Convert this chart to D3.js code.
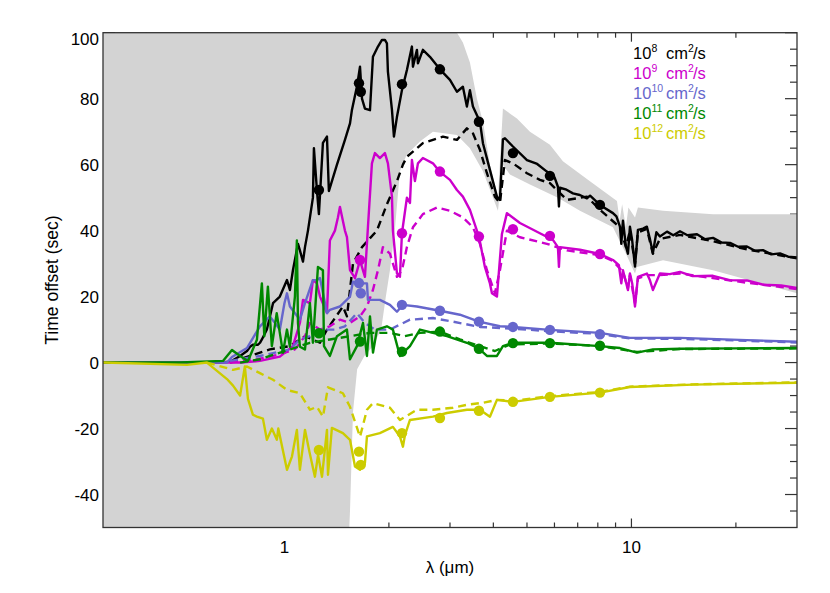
<!DOCTYPE html>
<meta charset="utf-8">
<script src="https://d3js.org/d3.v7.min.js"></script>
<style>
  body { margin: 0; background: #fff; }
  text { font-family: "Liberation Sans", Arial, sans-serif; fill: #000; }
</style>
<div id="chart"></div>
<script>
  var width = 830, height = 593;

  // wavelength (micron), time offset (sec)
  var solid8 = [[0.3,0],[0.65,0],[0.70,0.3],[0.745,2],[0.78,3.5],[0.796,4.8],[0.811,5.4],[0.839,5.4],[0.85,6],[0.861,7],[0.89,10],[0.927,18],[0.97,20],[1.017,25],[1.037,22],[1.058,28],[1.094,36],[1.108,34],[1.131,30.6],[1.146,35],[1.169,40],[1.208,50],[1.216,65],[1.241,52],[1.257,45],[1.291,66.6],[1.326,68.5],[1.343,52],[1.417,60],[1.494,67.5],[1.545,72.5],[1.565,76.6],[1.62,84],[1.651,89.7],[1.673,80],[1.706,77],[1.764,76.5],[1.799,92.7],[1.860,95.8],[1.910,97.8],[1.948,97.8],[1.974,96.8],[1.987,88.2],[2.041,76.6],[2.068,68.5],[2.110,74.5],[2.181,82.6],[2.254,88.7],[2.330,95.8],[2.346,89.7],[2.409,94.8],[2.425,90.7],[2.506,94.8],[2.626,92.7],[2.806,88.9],[2.999,85.7],[3.141,82.1],[3.268,83.6],[3.356,77.6],[3.424,82.6],[3.493,77.6],[3.659,73],[3.733,66.5],[3.910,58.4],[4.096,50.3],[4.178,49.3],[4.262,67.7],[4.319,68],[4.555,65.5],[4.999,61.4],[5.35,60.2],[5.706,57.9],[6.0,56.2],[6.140,53.3],[6.181,47.3],[6.221,53],[6.5,52.4],[6.783,51.3],[7.1,50.8],[7.443,49.8],[7.6,50.6],[8.114,47.8],[8.846,45.3],[9.05,44.3],[9.267,41.2],[9.35,36],[9.452,43],[9.641,35.2],[9.770,33],[9.901,41.2],[10.05,37],[10.24,29.1],[10.44,40.2],[10.8,40.6],[11.08,41.2],[11.3,37.5],[11.53,33.2],[11.8,39.5],[12.08,38.2],[12.66,39.7],[13.2,38.6],[13.80,39.8],[14.5,38.6],[15.45,38.9],[16.3,37.4],[17.18,37.8],[18.2,36.4],[19.23,36.3],[20.3,35.1],[21.52,35.2],[22.7,33.9],[23.93,34.1],[25.3,32.8],[26.79,33.1],[28.3,32.1],[30,31.9]];
  var dashed8 = [[0.697,0],[0.796,2],[0.908,4],[1.037,5],[1.146,8],[1.266,6],[1.326,10],[1.474,17],[1.514,14],[1.576,30],[1.673,35],[1.847,40],[1.974,48],[2.110,55],[2.195,60],[2.254,62.4],[2.506,66.5],[2.863,68.5],[3.141,67.5],[3.356,71],[3.493,69.5],[3.659,64.5],[3.833,57.4],[4.042,50.3],[4.178,48.4],[4.319,61.4],[4.555,60.4],[4.999,57.4],[5.447,55.4],[5.822,54.4],[6.518,49.3],[7.443,50.3],[8.114,46.3],[9.267,41],[9.641,35],[9.901,40],[10.24,30],[10.44,39.5],[11.08,40.5],[11.53,33],[12.08,37.5],[13.80,38.7],[17.18,36.8],[21.52,34.3],[30,31.6]];
  var dots8 = [[1.257,52.3],[1.64,84.7],[1.66,82.1],[2.181,84.4],[2.806,88.9],[3.635,73],[4.555,63.5],[5.822,56.6],[8.114,47.8]];

  var solid9 = [[0.3,0],[0.75,0],[0.85,0.5],[0.97,1.8],[1.058,5],[1.108,12],[1.131,19],[1.184,18],[1.208,25],[1.241,24],[1.266,20],[1.326,15],[1.352,37],[1.398,40],[1.426,44],[1.445,47.2],[1.494,40],[1.514,38],[1.545,28],[1.597,25.6],[1.651,31],[1.706,26],[1.740,41],[1.787,60.4],[1.823,63.5],[1.884,62],[1.948,63.5],[1.987,60.4],[2.041,50.3],[2.054,40],[2.110,27],[2.152,26],[2.181,39.2],[2.254,50],[2.300,48.4],[2.330,61.4],[2.377,55],[2.425,60.4],[2.506,62],[2.679,60.4],[2.806,57.8],[2.999,55.4],[3.141,52.3],[3.268,50.3],[3.424,46.3],[3.635,38.2],[3.782,29],[3.910,24],[3.963,21],[4.096,20],[4.234,39],[4.377,45.3],[4.772,42.3],[5.447,39.2],[5.939,37.2],[6.140,35],[6.181,29],[6.221,35],[7.105,34.2],[8.114,32.9],[8.846,31.1],[9.2,29.5],[9.35,24],[9.452,28],[9.770,22],[9.901,27],[10.05,24],[10.24,17],[10.44,26],[11.08,27],[11.3,25],[11.53,22],[12.08,27],[12.9,26.8],[13.80,27.5],[15.0,26.2],[17.18,26.3],[19.2,25],[21.52,24.9],[24,23.6],[27,23.4],[30,22.6]];
  var dashed9 = [[0.697,0],[0.833,1],[0.970,2.5],[1.072,4],[1.146,8],[1.184,12],[1.266,10],[1.352,11],[1.445,13],[1.545,12],[1.651,14],[1.729,17],[1.799,22],[1.860,28],[1.922,35],[2.014,33],[2.110,26],[2.181,28],[2.254,35],[2.346,41],[2.506,45],[2.751,47],[2.999,46],[3.268,44],[3.493,41],[3.659,36],[3.833,28],[4.042,21],[4.178,28],[4.377,40],[4.772,38],[5.706,36],[6.518,34],[7.593,33],[8.114,32.5],[8.846,30.8],[9.452,27.5],[9.770,22.5],[9.901,26.5],[10.24,18],[10.44,25.5],[11.08,26.5],[12.08,26.5],[13.80,27],[17.18,25.6],[21.52,24.2],[30,22.3]];
  var dots9 = [[1.651,31.1],[2.181,39.2],[2.806,57.9],[3.635,38.2],[4.555,40.4],[5.822,38.4],[8.114,32.9]];

  var solid10 = [[0.3,0],[0.683,0],[0.706,1.7],[0.780,4.4],[0.850,11],[0.908,14],[0.97,10],[1.0,18],[1.017,21],[1.037,17],[1.108,13],[1.146,18],[1.208,25],[1.241,25],[1.266,25.6],[1.326,15],[1.352,16],[1.445,17],[1.545,20],[1.576,24.5],[1.651,24],[1.729,24],[1.740,19],[1.884,19],[2.014,17.5],[2.110,15.4],[2.195,17.5],[2.409,17],[2.806,15.7],[3.204,14.5],[3.635,12.4],[4.178,11],[4.555,10.8],[5.822,9.9],[8.114,9],[9.901,7.5],[13.80,7.5],[21.52,6.8],[30,6.3]];
  var dashed10 = [[0.697,0.5],[0.850,2],[1.037,4],[1.108,7],[1.184,8],[1.266,10],[1.398,10],[1.494,11],[1.618,15],[1.706,12],[1.823,10],[2.014,10],[2.300,13],[2.679,13.5],[3.059,12.4],[3.659,10.8],[4.178,10.5],[4.555,10.3],[5.822,9.5],[8.114,8.7],[9.901,7.3],[13.80,7.2],[21.52,6.6],[30,6.1]];
  var dots10 = [[1.64,24.1],[1.66,21.0],[2.181,17.5],[2.806,15.7],[3.635,12.4],[4.555,10.8],[5.822,9.9],[8.114,8.6]];

  var solid11 = [[0.3,0],[0.5,0],[0.665,0.5],[0.706,3.8],[0.745,2],[0.785,0.5],[0.833,6.9],[0.861,24],[0.875,8],[0.896,23],[0.92,5],[0.95,15],[0.99,3],[1.017,10],[1.037,4.8],[1.072,20],[1.086,37],[1.094,12],[1.108,4.8],[1.146,4],[1.184,18],[1.208,6],[1.249,29],[1.291,28],[1.300,5],[1.352,2],[1.417,8],[1.514,10],[1.545,1],[1.618,5],[1.684,12],[1.729,2],[1.764,14],[1.80,3],[1.847,10],[1.974,11],[2.054,10],[2.152,2],[2.300,5],[2.457,10],[2.679,9],[2.940,8],[3.356,6],[3.635,4.2],[3.833,2],[4.096,2],[4.262,5],[4.555,6],[5.822,6],[8.114,5],[9.267,4.4],[10.37,3],[11.53,4],[13.80,4.2],[20,4.3],[30,4.4]];
  var dashed11 = [[0.745,0],[0.85,1],[0.908,2],[1.037,4],[1.184,6],[1.352,7],[1.545,8],[1.764,9],[2.014,9],[2.225,8],[2.457,9],[2.806,9.4],[3.204,7],[3.659,5],[4.042,3.5],[4.465,5.5],[5.822,5.8],[8.114,5],[10.37,3.2],[13.80,4.1],[30,4.3]];
  var dots11 = [[1.257,8.9],[1.651,6.4],[2.181,3.3],[2.806,9.4],[3.635,4.2],[4.555,5.9],[5.822,5.9],[8.114,5.1]];

  var solid12 = [[0.3,0],[0.524,-0.7],[0.598,0],[0.683,-5],[0.711,-7],[0.745,-10],[0.769,-1.2],[0.785,-11],[0.811,-15.8],[0.833,-16.4],[0.867,-17],[0.890,-23.4],[0.920,-20],[0.951,-23.4],[0.96,-20],[1.017,-32.5],[1.051,-28.5],[1.086,-20.4],[1.108,-32.5],[1.146,-20.4],[1.18,-27],[1.224,-34.6],[1.25,-28],[1.283,-34.6],[1.326,-20.4],[1.335,-34],[1.370,-19.8],[1.474,-21.4],[1.545,-23.4],[1.597,-31.5],[1.651,-32.5],[1.706,-30.4],[1.729,-22.4],[1.884,-21.4],[2.054,-19.5],[2.152,-22.4],[2.195,-25.5],[2.225,-22],[2.300,-17.4],[2.679,-16.4],[2.940,-15.3],[3.356,-14.3],[3.659,-14.3],[3.910,-16.4],[4.096,-11.3],[4.555,-11.9],[5.822,-10.4],[8.114,-9.1],[9.901,-7.4],[15.04,-6.7],[30,-6.1]];
  var dashed12 = [[0.598,0],[0.711,-2.2],[0.780,-1.2],[0.850,-3.2],[0.927,-5.2],[1.017,-8.3],[1.108,-9.3],[1.184,-14.3],[1.241,-13.4],[1.291,-16.4],[1.335,-7.5],[1.474,-9.3],[1.545,-13.4],[1.651,-22.5],[1.729,-14.3],[1.799,-12.3],[2.014,-13.7],[2.152,-17.4],[2.409,-14.3],[2.679,-14.3],[3.059,-13.7],[3.356,-12.8],[3.733,-12.2],[4.096,-11.3],[4.555,-11.6],[5.822,-10.2],[8.114,-8.9],[9.901,-7.3],[15.04,-6.6],[30,-6]];
  var dots12 = [[1.257,-26.5],[1.64,-27.0],[1.66,-31.0],[2.181,-21.4],[2.806,-16.8],[3.635,-14.6],[4.555,-11.9],[5.822,-10.4],[8.114,-9.1]];

  // grey envelope around the 10^8 model
  var bandUpper = [[0.3,110],[3.10,110],[3.10,101],[3.268,97],[3.424,91],[3.587,80],[3.733,73],[3.910,60],[4.124,50],[4.262,77],[4.678,74],[5.100,70],[5.822,66],[6.346,61],[7.593,55],[9.084,49],[9.25,43],[9.4,48],[9.64,41],[9.8,47],[10.24,44],[10.44,47],[12.33,46],[17.18,45],[30,45]];
  var bandLower = [[0.3,-60],[1.524,-60],[1.545,-45],[1.576,-15],[1.62,-2],[1.70,2],[1.80,5],[1.90,10],[1.96,20],[2.014,28],[2.08,40],[2.152,58],[2.25,63],[2.457,67],[2.679,70],[3.141,69],[3.424,65],[3.733,58],[4.124,46],[4.262,60],[4.465,57],[5.100,54],[6.140,50],[7.105,46],[8.846,41],[9.641,33],[10.24,27],[10.37,29],[12.33,31],[17.18,28],[30,21]];

  var legendExp = ["8", "9", "10", "11", "12"];
  var colors = ["#000000", "#cc00cc", "#6666cc", "#008800", "#cccc00"];
  var series = [
    {solid: solid8, dashed: dashed8, dots: dots8},
    {solid: solid9, dashed: dashed9, dots: dots9},
    {solid: solid10, dashed: dashed10, dots: dots10},
    {solid: solid11, dashed: dashed11, dots: dots11},
    {solid: solid12, dashed: dashed12, dots: dots12}
  ];

  var xTickMajor = [1, 10];
  var xTickMinor = [0.4, 0.5, 0.6, 0.7, 0.8, 0.9, 2, 3, 4, 5, 6, 7, 8, 9, 20];
  var yTickMajor = [-40, -20, 0, 20, 40, 60, 80, 100];

  var pLeft = 103, pRight = 797, pTop = 32.7, pBottom = 527.5;

  var svg = d3.select("#chart").append("svg")
    .attr("width", width)
    .attr("height", height);

  var x = d3.scaleLog().domain([0.3, 30]).range([pLeft, pRight]);
  var y = d3.scaleLinear().domain([-50, 100]).range([pBottom, pTop]);

  svg.append("defs").append("clipPath").attr("id", "clip")
    .append("rect").attr("x", pLeft).attr("y", pTop)
    .attr("width", pRight - pLeft).attr("height", pBottom - pTop);

  // ticks (inside, all four sides)
  var tickG = svg.append("g").attr("stroke", "#333").attr("stroke-width", 1.2);
  var yMinor = d3.range(-45, 100, 5).filter(function (v) { return v % 20 !== 0; });
  yTickMajor.forEach(function (v) {
    tickG.append("line").attr("x1", pLeft).attr("x2", pLeft + 12).attr("y1", y(v)).attr("y2", y(v));
    tickG.append("line").attr("x1", pRight).attr("x2", pRight - 12).attr("y1", y(v)).attr("y2", y(v));
  });
  yMinor.forEach(function (v) {
    tickG.append("line").attr("x1", pLeft).attr("x2", pLeft + 7).attr("y1", y(v)).attr("y2", y(v));
    tickG.append("line").attr("x1", pRight).attr("x2", pRight - 7).attr("y1", y(v)).attr("y2", y(v));
  });
  xTickMajor.forEach(function (v) {
    tickG.append("line").attr("x1", x(v)).attr("x2", x(v)).attr("y1", pBottom).attr("y2", pBottom - 9);
    tickG.append("line").attr("x1", x(v)).attr("x2", x(v)).attr("y1", pTop).attr("y2", pTop + 9);
  });
  xTickMinor.forEach(function (v) {
    tickG.append("line").attr("x1", x(v)).attr("x2", x(v)).attr("y1", pBottom).attr("y2", pBottom - 5);
    tickG.append("line").attr("x1", x(v)).attr("x2", x(v)).attr("y1", pTop).attr("y2", pTop + 5);
  });

  var plot = svg.append("g").attr("clip-path", "url(#clip)");

  var band = bandUpper.concat(bandLower.slice().reverse());
  plot.append("path")
    .datum(band)
    .attr("fill", "#d3d3d3")
    .attr("d", d3.line().x(function (d) { return x(d[0]); }).y(function (d) { return y(d[1]); }));

  var line = d3.line()
    .x(function (d) { return x(d[0]); })
    .y(function (d) { return y(d[1]); });

  series.forEach(function (s, i) {
    plot.append("path").datum(s.dashed)
      .attr("fill", "none").attr("stroke", colors[i]).attr("stroke-width", 2.4)
      .attr("stroke-dasharray", "8,5").attr("stroke-linejoin", "round")
      .attr("d", line);
    plot.append("path").datum(s.solid)
      .attr("fill", "none").attr("stroke", colors[i]).attr("stroke-width", 2.4)
      .attr("stroke-linejoin", "round")
      .attr("d", line);
    plot.selectAll(null).data(s.dots).enter().append("circle")
      .attr("cx", function (d) { return x(d[0]); })
      .attr("cy", function (d) { return y(d[1]); })
      .attr("r", 5.2)
      .attr("fill", colors[i]);
  });

  // frame
  svg.append("rect")
    .attr("x", pLeft).attr("y", pTop)
    .attr("width", pRight - pLeft).attr("height", pBottom - pTop)
    .attr("fill", "none").attr("stroke", "#333").attr("stroke-width", 1.3);

  // tick labels
  yTickMajor.forEach(function (v) {
    svg.append("text")
      .attr("x", pLeft - 4)
      .attr("y", y(v) + (v === 100 ? 12 : 6.5))
      .attr("text-anchor", "end")
      .attr("font-size", 17)
      .text(v);
  });
  xTickMajor.forEach(function (v) {
    svg.append("text")
      .attr("x", x(v))
      .attr("y", pBottom + 25)
      .attr("text-anchor", "middle")
      .attr("font-size", 17)
      .text(v);
  });

  svg.append("text")
    .attr("x", 450).attr("y", 573)
    .attr("text-anchor", "middle")
    .attr("font-size", 17)
    .text("λ (μm)");

  svg.append("text")
    .attr("transform", "translate(58,280) rotate(-90)")
    .attr("text-anchor", "middle")
    .attr("font-size", 17.5)
    .text("Time offset (sec)");

  // legend
  var legend = svg.append("g");
  legendExp.forEach(function (e, i) {
    var yb = 58.5 + i * 20;
    var c = colors[i];
    legend.append("text").attr("x", 633).attr("y", yb).attr("font-size", 16.5).style("fill", c).text("10");
    legend.append("text").attr("x", 651.5).attr("y", yb - 7).attr("font-size", 10.5).style("fill", c).text(e);
    legend.append("text").attr("x", 666).attr("y", yb).attr("font-size", 16.5).style("fill", c).text("cm");
    legend.append("text").attr("x", 688).attr("y", yb - 7).attr("font-size", 10.5).style("fill", c).text("2");
    legend.append("text").attr("x", 693).attr("y", yb).attr("font-size", 16.5).style("fill", c).text("/s");
  });
</script>
